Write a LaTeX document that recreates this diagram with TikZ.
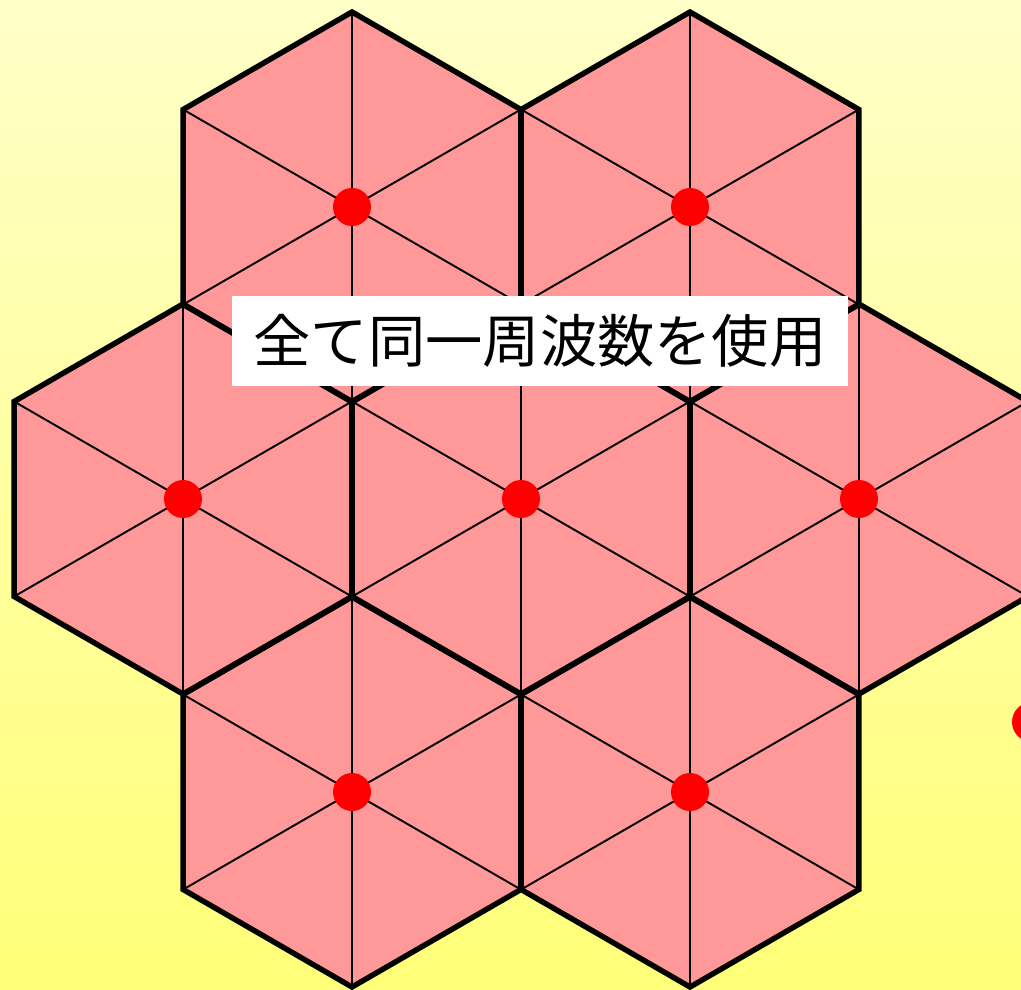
\documentclass[tikz,border=0pt]{standalone}
\usepackage{fontspec}
\newfontfamily\jpfont{Noto Sans CJK JP}
\definecolor{bgtop}{HTML}{FFFFC8}
\definecolor{bgbot}{HTML}{FFFF78}
\definecolor{cellfill}{HTML}{FF9999}
\begin{document}
\begin{tikzpicture}[x=0.02cm, y=-0.02cm]
        \shade [top color=bgtop, bottom color=bgbot] (0,0) rectangle (1021,990);
        \useasboundingbox (0,0) rectangle (1021,990);
        % cell centres
        \foreach \n/\cx/\cy in {a/352/207, b/690/207, c/183/499, d/521/499, e/859/499, f/352/792, g/690/792}
          \coordinate (\n) at (\cx,\cy);
        % fill and spokes
        \foreach \n in {a,b,c,d,e,f,g} {
          \fill [cellfill] (\n) +(90:195) -- +(30:195) -- +(-30:195) -- +(-90:195) -- +(-150:195) -- +(150:195) -- cycle;
          \foreach \ang in {30,90,...,330}
            \draw [line width=1.1pt] (\n) -- +(\ang:195);
        }
        % outlines
        \foreach \n in {a,b,c,d,e,f,g}
          \draw [line width=3.1pt, line join=miter] (\n) +(90:195) -- +(30:195) -- +(-30:195) -- +(-90:195) -- +(-150:195) -- +(150:195) -- cycle;
        % stations
        \foreach \n in {a,b,c,d,e,f,g}
          \fill [red] (\n) circle [radius=19];
        \fill [red] (1032,722) circle [radius=20];
        \node [fill=white, inner sep=0pt, minimum width=12.32cm, minimum height=1.82cm] (label) at (540,341)
          {\raisebox{-0.05cm}{\jpfont\fontsize{32.6}{40}\selectfont 全て同一周波数を使用}};
      \end{tikzpicture}
\end{document}
